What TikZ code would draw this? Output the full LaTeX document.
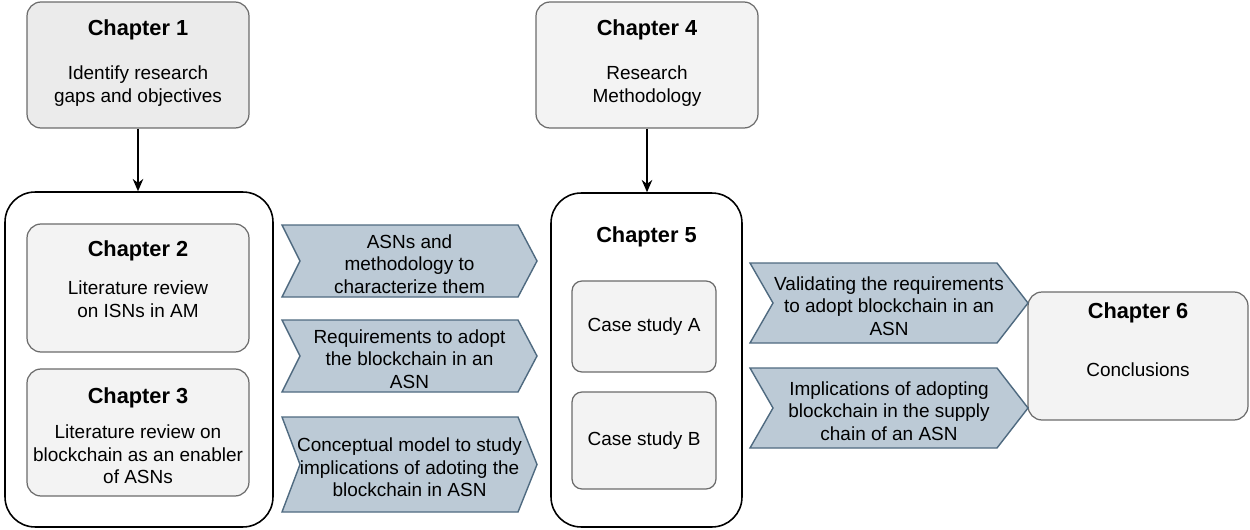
\documentclass[tikz,border=0pt]{standalone}
\usepackage{fontspec}
\setmainfont{Liberation Sans}
\usetikzlibrary{arrows.meta}

\definecolor{chevfill}{HTML}{BCCAD6}
\definecolor{chevline}{HTML}{4F6A80}
\definecolor{boxfill}{HTML}{F3F3F3}
\definecolor{boxfilldark}{HTML}{EBEBEB}
\definecolor{boxline}{HTML}{6B6B6B}

\tikzset{
    chapbox/.style={draw=boxline, fill=boxfill, rounded corners=0.28cm,
        minimum width=4.44cm, minimum height=2.52cm, line width=0.7pt},
    group/.style={draw=black, fill=white, rounded corners=0.6cm, line width=0.9pt},
    casebox/.style={draw=boxline, fill=boxfill, rounded corners=0.2cm,
        minimum width=2.88cm, line width=0.7pt, font=\fontsize{10.8}{12.8}\selectfont},
    title/.style={font=\fontsize{12.4}{15}\selectfont\bfseries, yshift=-0.06cm},
    body/.style={font=\fontsize{10.8}{12.8}\selectfont, align=center, yshift=-0.06cm},
    chev/.style={draw=chevline, fill=chevfill, line width=0.8pt},
    flow/.style={-{Stealth[length=7pt,width=6pt]}, line width=0.8pt},
}

% chevron: name, x1, y1, x2, y2, text (uses \notch and \tip)
\newcommand{\drawchevron}[6]{%
    \draw[chev] (#2,#3) -- ({#4-\tip},#3) -- (#4,{(#3+#5)/2}) -- ({#4-\tip},#5)
        -- (#2,#5) -- ({#2+\notch},{(#3+#5)/2}) -- cycle;
    \node[body] (#1) at ({(#2+#4)/2},{(#3+#5)/2}) {#6};
}

\begin{document}
\begin{tikzpicture}[x=0.02cm,y=-0.02cm]
    \useasboundingbox (0,0) rectangle (1250,530);

    % top chapters
    \node[chapbox, fill=boxfilldark] (ch1) at (138,65) {};
    \node[title] (ch1-title) at ([yshift=-0.5cm]ch1.north) {Chapter 1};
    \node[body] (ch1-text) at ([yshift=-1.63cm]ch1.north) {Identify research\\gaps and objectives};

    \node[chapbox] (ch4) at (647,65) {};
    \node[title] (ch4-title) at ([yshift=-0.5cm]ch4.north) {Chapter 4};
    \node[body] (ch4-text) at ([yshift=-1.63cm]ch4.north) {Research\\Methodology};

    % literature review group
    \node[group, minimum width=5.36cm, minimum height=6.70cm] (left) at (139,359.5) {};

    \node[chapbox, minimum height=2.56cm] (ch2) at (138,288) {};
    \node[title] (ch2-title) at ([yshift=-0.48cm]ch2.north) {Chapter 2};
    \node[body] (ch2-text) at ([yshift=-1.46cm]ch2.north) {Literature review\\on ISNs in AM};

    \node[chapbox, minimum height=2.54cm] (ch3) at (138,432.5) {};
    \node[title] (ch3-title) at ([yshift=-0.52cm]ch3.north) {Chapter 3};
    \node[body] (ch3-text) at ([yshift=-1.66cm]ch3.north) {Literature review on\\blockchain as an enabler\\of ASNs};

    % case study group
    \node[group, minimum width=3.82cm, minimum height=6.68cm] (ch5) at (646.5,360) {};
    \node[title] (ch5-title) at ([yshift=-0.84cm]ch5.north) {Chapter 5};
    \node[casebox, minimum height=1.82cm] (caseA) at (644,326.5) {Case study A};
    \node[casebox, minimum height=1.94cm] (caseB) at (644,440.5) {Case study B};

    % conclusions
    \node[chapbox, minimum width=4.40cm, minimum height=2.56cm] (ch6) at (1138,356) {};
    \node[title] (ch6-title) at ([yshift=-0.36cm]ch6.north) {Chapter 6};
    \node[body] (ch6-text) at ([yshift=-1.5cm]ch6.north) {Conclusions};

    % outputs of chapters 2 and 3
    \def\notch{18}
    \def\tip{19}
    \drawchevron{out1}{282}{225}{537}{297}{ASNs and\\methodology to\\characterize them}
    \drawchevron{out2}{282}{320}{537}{392}{Requirements to adopt\\the blockchain in an\\ASN}
    \drawchevron{out3}{282}{417}{537}{512}{Conceptual model to study\\implications of adoting the\\blockchain in ASN}

    % outputs of chapter 5
    \def\notch{23}
    \def\tip{31}
    \drawchevron{out4}{750}{263}{1028}{343}{Validating the requirements\\to adopt blockchain in an\\ASN}
    \drawchevron{out5}{750}{368}{1028}{448}{Implications of adopting\\blockchain in the supply\\chain of an ASN}

    % arrows
    \draw[flow] (ch1.south) -- (ch1.south |- left.north);
    \draw[flow] (ch4.south) -- (ch4.south |- ch5.north);
\end{tikzpicture}
\end{document}
